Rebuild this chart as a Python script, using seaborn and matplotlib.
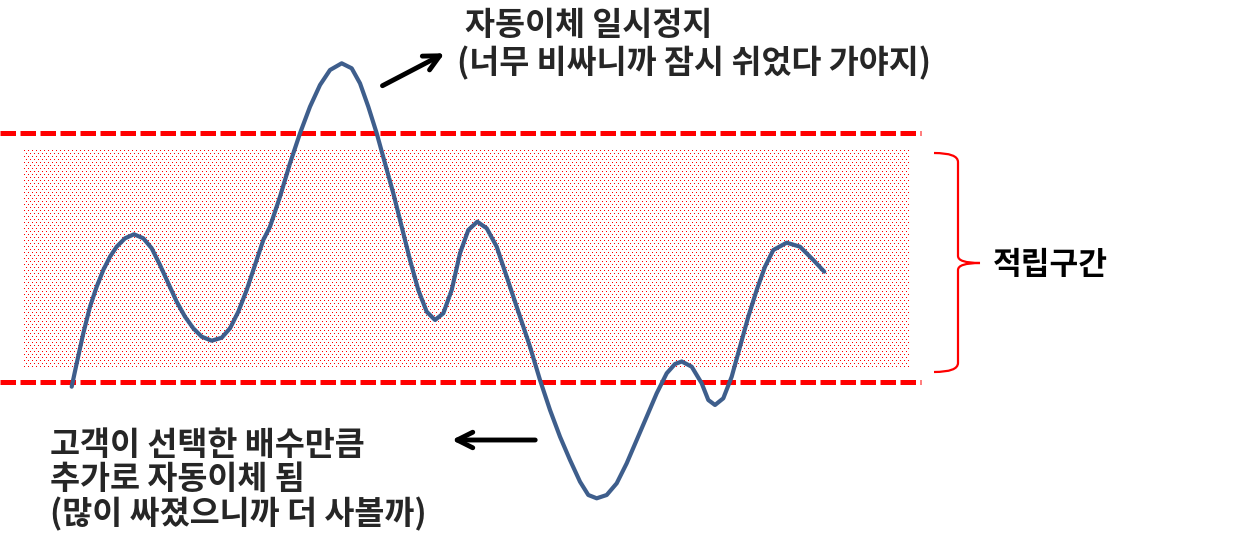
import matplotlib
matplotlib.use("Agg")
import matplotlib.pyplot as plt
from matplotlib.path import Path
from matplotlib.patches import PathPatch
import seaborn as sns
import pandas as pd
import numpy as np

# ---- data (in picture units) ----
curve_x = [71.7, 76.7, 83.3, 90.0, 96.7, 103.3, 110.0, 116.7, 125.0, 134.0,
           143.3, 151.7, 160.0, 168.3, 176.7, 185.0, 193.3, 201.7, 211.7, 221.7,
           230.0, 238.3, 246.7, 255.0, 263.3, 270.0, 280.0, 290.0, 300.0, 310.0,
           320.0, 330.0, 341.7, 351.7, 360.0, 368.3, 376.7, 385.0, 393.3, 401.7,
           410.0, 418.3, 426.7, 435.0, 443.3, 451.7, 460.0, 468.3, 477.3, 486.7,
           496.7, 500.0, 510.0, 520.0, 530.0, 540.0, 550.0, 560.0, 570.0, 580.0,
           588.3, 596.7, 606.7, 616.7, 626.7, 636.7, 646.7, 656.7, 666.7, 675.0,
           681.7, 691.7, 701.7, 708.3, 715.0, 723.3, 731.7, 740.0, 748.3, 756.7,
           765.0, 773.3, 786.7, 800.0, 813.3, 824.3]
curve_y = [386.7, 363.3, 333.3, 306.7, 286.7, 270.0, 256.7, 246.7, 238.3, 234.3,
           238.3, 248.3, 265.0, 283.3, 301.7, 316.7, 328.3, 336.7, 340.7, 337.7,
           328.3, 311.7, 290.0, 265.0, 240.0, 226.7, 196.7, 163.3, 133.3, 106.7,
           85.0, 70.0, 63.3, 68.3, 83.3, 106.7, 133.3, 163.3, 193.3, 226.7,
           260.0, 290.0, 311.7, 320.0, 313.3, 290.0, 253.3, 230.0, 221.7, 228.3,
           246.7, 256.7, 286.7, 316.7, 346.7, 380.0, 410.0, 436.7, 460.0, 481.7,
           495.0, 498.3, 495.0, 483.3, 463.3, 440.0, 416.7, 393.3, 373.3, 364.0,
           361.5, 366.7, 383.3, 400.0, 405.0, 398.3, 376.7, 346.7, 316.7, 290.0,
           266.7, 250.0, 242.7, 246.7, 260.0, 271.7]

upper_limit = 133
lower_limit = 382
band_left, band_right = 24, 909
band_top, band_bottom = 150, 367

top_note = ["자동이체 일시정지", "(너무 비싸니까 잠시 쉬었다 가야지)"]
bottom_note = ["고객이 선택한 배수만큼", "추가로 자동이체 됨", "(많이 싸졌으니까 더 사볼까)"]
band_label = "적립구간"

# ---- style ----
sns.set_theme(style="white")
plt.rcParams['font.family'] = ['Noto Sans CJK KR', 'DejaVu Sans']

W, H = 1241, 546
fig = plt.figure(figsize=(W / 100, H / 100), dpi=100)
ax = fig.add_axes([0, 0, 1, 1])

# dotted band texture (red pixel dots, staggered lattice)
bw, bh = band_right - band_left, band_bottom - band_top
tex = np.zeros((bh, bw, 4))
rows = np.arange(bh)[:, None]
cols = np.arange(bw)[None, :]
mask = (rows % 3 == 0) & (((cols + 2 * ((rows // 3) % 2)) % 4) == 0)
tex[mask] = [1.0, 0.0, 0.0, 1.0]
ax.imshow(tex, extent=[band_left, band_right, band_bottom, band_top],
          interpolation="nearest", aspect="auto", zorder=0)

# dashed limits
for yv in (upper_limit, lower_limit):
    ax.plot([0, 921], [yv, yv], color="red", lw=3.6, dashes=(3.1, 0.9),
            dash_capstyle="butt", solid_capstyle="butt", zorder=2)

# curve
df = pd.DataFrame({"x": curve_x, "y": curve_y})
sns.lineplot(data=df, x="x", y="y", sort=False, estimator=None, ax=ax,
             color="#3E5E8C", lw=3.0, solid_joinstyle="round", solid_capstyle="round",
             zorder=3)
ax.set_xlim(0, W)
ax.set_ylim(H, 0)
ax.axis("off")

# brace
verts = [(934, 153), (958, 153), (958, 162),
         (958, 256), (958, 263), (980, 263),
         (958, 263), (958, 270),
         (958, 363), (958, 372), (934, 372)]
codes = [Path.MOVETO, Path.CURVE3, Path.CURVE3,
         Path.LINETO, Path.CURVE3, Path.CURVE3,
         Path.CURVE3, Path.CURVE3,
         Path.LINETO, Path.CURVE3, Path.CURVE3]
ax.add_patch(PathPatch(Path(verts, codes), facecolor="none", edgecolor="red", lw=1.6))

# texts
fs = 23.5
ax.text(993, 265, band_label, fontsize=22.5, fontweight="bold", va="center", ha="left", color="black")
ax.text(465, 25, top_note[0], fontsize=fs, fontweight="bold", va="center", ha="left")
ax.text(457, 63, top_note[1], fontsize=fs, fontweight="bold", va="center", ha="left")
for i, line in enumerate(bottom_note):
    ax.text(50, 446 + 34 * i, line, fontsize=fs, fontweight="bold", va="center", ha="left")

# arrows
ax.annotate("", xy=(447, 52), xytext=(380, 87),
            arrowprops=dict(arrowstyle="->", lw=3.5, color="black", mutation_scale=28))
ax.annotate("", xy=(449, 440), xytext=(538, 440),
            arrowprops=dict(arrowstyle="->", lw=3.5, color="black", mutation_scale=28))

fig.savefig("out.png", dpi=100, facecolor="white")
